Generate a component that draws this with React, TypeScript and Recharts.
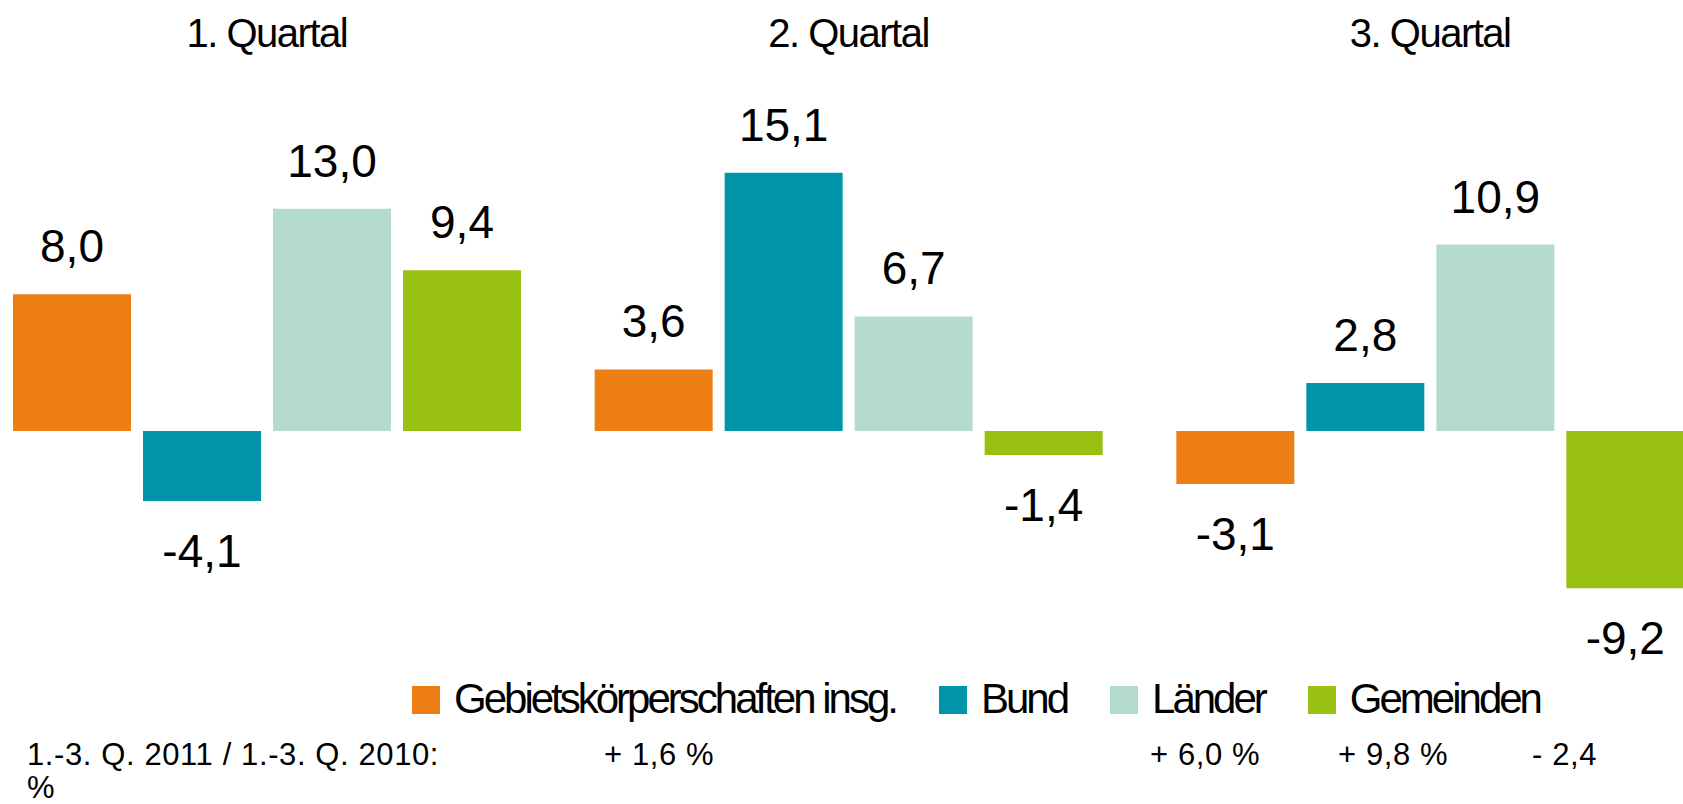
import React from "react"
import { BarChart, Bar, XAxis, YAxis, Legend, LabelList } from "recharts"

const quarters = ["1. Quartal", "2. Quartal", "3. Quartal"]
const seriesNames = ["Gebietskörperschaften insg.", "Bund", "Länder", "Gemeinden"]
const gebiet = [8.0, 3.6, -3.1]
const bund = [-4.1, 15.1, 2.8]
const laender = [13.0, 6.7, 10.9]
const gemeinden = [9.4, -1.4, -9.2]

const summaryLabel = "1.-3. Q. 2011 / 1.-3. Q. 2010:"
const summaryValues = ["+ 1,6 %", "+ 6,0 %", "+ 9,8 %", "- 2,4"]
const summaryWrap = "%"

const FONT = "'Liberation Sans', Arial, sans-serif"
const COLORS = ["#ec7e13", "#0094a8", "#b4dbcb", "#98c010"]
const KEYS = ["gebiet", "bund", "laender", "gemeinden"]
// x offsets for the summary line (text box with tabs in the original)
const summaryX = [604, 1150, 1338, 1532]

const data = quarters.map((q, i) => ({
  quarter: q,
  gebiet: gebiet[i],
  bund: bund[i],
  laender: laender[i],
  gemeinden: gemeinden[i],
}))

const fmt = (v: number) => v.toFixed(1).replace(".", ",")

const renderValue = (props: any) => {
  const vb = props.viewBox || {}
  const x = props.x ?? vb.x
  const y = props.y ?? vb.y
  const w = props.width ?? vb.width
  const h = props.height ?? vb.height
  const v = Number(props.value)
  const top = Math.min(y, y + h)
  const bottom = Math.max(y, y + h)
  const ty = v >= 0 ? top - 32 : bottom + 66
  return (
    <text x={x + w / 2} y={ty} textAnchor="middle" fontSize={46} fontFamily={FONT} fill="#000">
      {fmt(v)}
    </text>
  )
}

const renderLegend = (props: any) => {
  const payload = [...(props.payload || [])].sort(
    (a: any, b: any) => seriesNames.indexOf(a.value) - seriesNames.indexOf(b.value)
  )
  return (
    <div style={{ display: "flex", fontFamily: FONT, fontSize: 42, lineHeight: "42px", letterSpacing: -3, color: "#000" }}>
      {payload.map((entry: any, i: number) => (
        <div key={i} style={{ display: "flex", alignItems: "flex-start", marginRight: 43, whiteSpace: "nowrap" }}>
          <span style={{ display: "inline-block", width: 28, height: 28, marginTop: 8, marginRight: 14, background: entry.color }} />
          <span>{entry.value}</span>
        </div>
      ))}
    </div>
  )
}

const summaryStyle = { position: "absolute" as const, fontFamily: FONT, fontSize: 31, lineHeight: "31px", whiteSpace: "nowrap" as const }

export default function App() {
  return (
    <div style={{ position: "absolute", left: 0, top: 0, width: 1683, height: 804, overflow: "hidden", background: "#fff" }}>
      <div style={{ position: "absolute", left: -24.5, top: 0 }}>
        <BarChart width={1745} height={804} data={data} barSize={118} barGap={12}
          margin={{ top: 0, right: 0, bottom: 31, left: 0 }}>
          <XAxis dataKey="quarter" orientation="top" height={89} axisLine={false} tickLine={false}
            tickSize={0} tickMargin={42} interval={0}
            tick={{ fontSize: 40, fill: "#000", fontFamily: FONT, letterSpacing: -1.5 }} />
          <YAxis hide domain={[-20, 20]} allowDataOverflow />
          <Legend layout="horizontal" verticalAlign="middle" align="center" content={renderLegend}
            wrapperStyle={{ left: 436.5, top: 678, width: 1250 }} />
          {KEYS.map((k, i) => (
            <Bar key={k} dataKey={k} name={seriesNames[i]} fill={COLORS[i]} isAnimationActive={false}>
              <LabelList dataKey={k} content={renderValue} />
            </Bar>
          ))}
        </BarChart>
      </div>
      <div style={{ ...summaryStyle, left: 27, top: 739, letterSpacing: 0.6 }}>
        {summaryLabel}
      </div>
      {summaryValues.map((s, i) => (
        <div key={s} style={{ ...summaryStyle, left: summaryX[i], top: 739, letterSpacing: 0.6 }}>
          {s}
        </div>
      ))}
      <div style={{ ...summaryStyle, left: 27, top: 772 }}>
        {summaryWrap}
      </div>
    </div>
  )
}
